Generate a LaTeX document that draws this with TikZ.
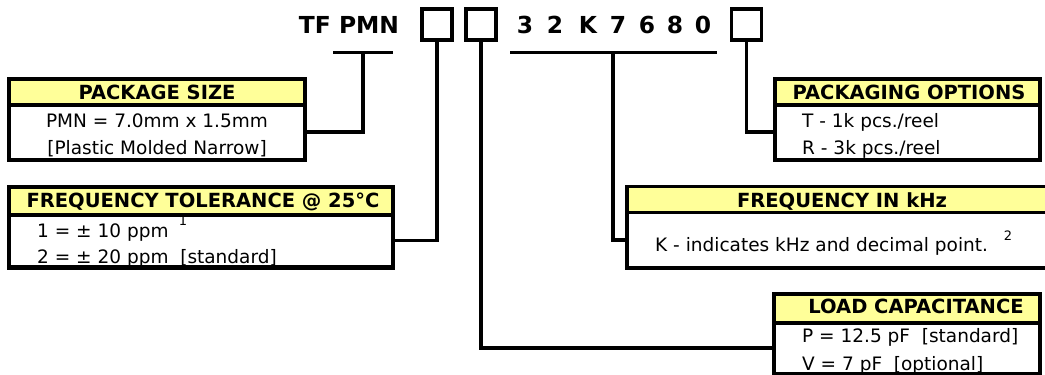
\documentclass[tikz,border=0pt]{standalone}
\usepackage{fontspec}
\setmainfont{DejaVu Sans}
\begin{document}
\begin{tikzpicture}[x=1pt,y=-1pt,
  hdrbox/.style={draw=black,line width=3.2pt,fill=hdryellow,inner sep=0pt},
  bodybox/.style={draw=black,line width=3.2pt,fill=white,inner sep=0pt},
  hdrtext/.style={inner sep=0pt,anchor=base,font=\fontsize{19.5}{23}\selectfont\bfseries},
  bodytext/.style={inner sep=0pt,anchor=base west,font=\fontsize{18.5}{27}\selectfont},
  bodyctext/.style={inner sep=0pt,anchor=base,font=\fontsize{18.5}{27}\selectfont},
  suptext/.style={inner sep=0pt,anchor=base,font=\fontsize{13}{15}\selectfont},
  titletext/.style={inner sep=0pt,anchor=base,font=\fontsize{23.4}{28}\selectfont\bfseries},
  sqbox/.style={draw=black,line width=3.2pt,inner sep=0pt,minimum width=30pt,minimum height=31pt},
  conn/.style={draw=black,line width=3.2pt}]
\definecolor{hdryellow}{RGB}{255,255,153}
\useasboundingbox (0,0) rectangle (1045,375);
\clip (0,0) rectangle (1045,375);

% ---- title row ----
\node[titletext] (tf) at (349,33) {TF PMN};
\node[sqbox] (sq1) at (437,24.5) {};
\node[sqbox] (sq2) at (481,24.5) {};
\node[titletext] (d1) at (525,33) {3};
\node[titletext] (d2) at (555,33) {2};
\node[titletext] (d3) at (588,33) {K};
\node[titletext] (d4) at (618,33) {7};
\node[titletext] (d5) at (647,33) {6};
\node[titletext] (d6) at (675,33) {8};
\node[titletext] (d7) at (703,33) {0};
\node[sqbox] (sq3) at (746.5,24.5) {};

\coordinate (pmnL) at (333,52.5);
\coordinate (pmnR) at (393,52.5);
\coordinate (pmnM) at (363,52.5);
\coordinate (digL) at (510,52.5);
\coordinate (digR) at (717,52.5);
\coordinate (digM) at (613,52.5);
\draw[conn] (pmnL) -- (pmnR);
\draw[conn] (digL) -- (digR);

% ---- PACKAGE SIZE ----
\node[bodybox,minimum width=296pt,minimum height=56pt] (pkB) at (157,132) {};
\node[hdrbox,minimum width=296pt,minimum height=26pt] (pkH) at (157,92) {};
\node[hdrtext] (pkT) at (157,99.5) {PACKAGE SIZE};
\node[bodyctext] (pk1) at (157,127) {PMN = 7.0mm x 1.5mm};
\node[bodyctext] (pk2) at (157,154) {[Plastic Molded Narrow]};

% ---- FREQUENCY TOLERANCE ----
\node[bodybox,minimum width=384pt,minimum height=53pt] (tlB) at (201,240.5) {};
\node[bodytext] (tl1) at (37,237) {1 = ± 10 ppm};
\node[suptext] (tls) at (183,225) {1};
\node[bodytext] (tl2) at (37,263) {2 = ± 20 ppm\ \ [standard]};
\draw[line width=3.2pt] (tlB.south west) -- (tlB.south east);
\node[hdrbox,minimum width=384pt,minimum height=28pt] (tlH) at (201,201) {};
\node[hdrtext] (tlT) at (203,207) {FREQUENCY TOLERANCE @ 25°C};

% ---- PACKAGING OPTIONS ----
\node[bodybox,minimum width=265pt,minimum height=56pt] (poB) at (907.5,132) {};
\node[hdrbox,minimum width=265pt,minimum height=26pt] (poH) at (907.5,92) {};
\node[hdrtext] (poT) at (909,99.5) {PACKAGING OPTIONS};
\node[bodytext] (po1) at (802,127) {T - 1k pcs./reel};
\node[bodytext] (po2) at (802,154) {R - 3k pcs./reel};

% ---- FREQUENCY IN kHz ----
\node[bodybox,minimum width=430pt,minimum height=56pt] (kB) at (842,240) {};
\node[hdrbox,minimum width=430pt,minimum height=26pt] (kH) at (842,199.5) {};
\node[hdrtext] (kT) at (842,207) {FREQUENCY IN kHz};
\node[bodytext] (k1) at (655,251) {K - indicates kHz and decimal point.};
\node[suptext] (ks) at (1008,240) {2};

% ---- LOAD CAPACITANCE ----
\node[bodybox,minimum width=266pt,minimum height=52pt] (lcB) at (907,348) {};
\node[bodytext] (lc1) at (802,342) {P = 12.5 pF\ \ [standard]};
\node[bodytext] (lc2) at (802,370) {V = 7 pF\ \ [optional]};
\draw[line width=3.2pt] (lcB.south west) -- (lcB.south east);
\node[hdrbox,minimum width=266pt,minimum height=29pt] (lcH) at (907,308.5) {};
\node[hdrtext] (lcT) at (916,313) {LOAD CAPACITANCE};

% ---- connectors ----
\draw[conn] (pmnM) |- (pkB.east);
\draw[conn] (sq1.south) |- (tlB.east);
\draw[conn] (sq2.south) |- (lcB.west);
\draw[conn] (digM) |- (kB.west);
\draw[conn] (sq3.south) |- (poB.west);
\end{tikzpicture}
\end{document}
